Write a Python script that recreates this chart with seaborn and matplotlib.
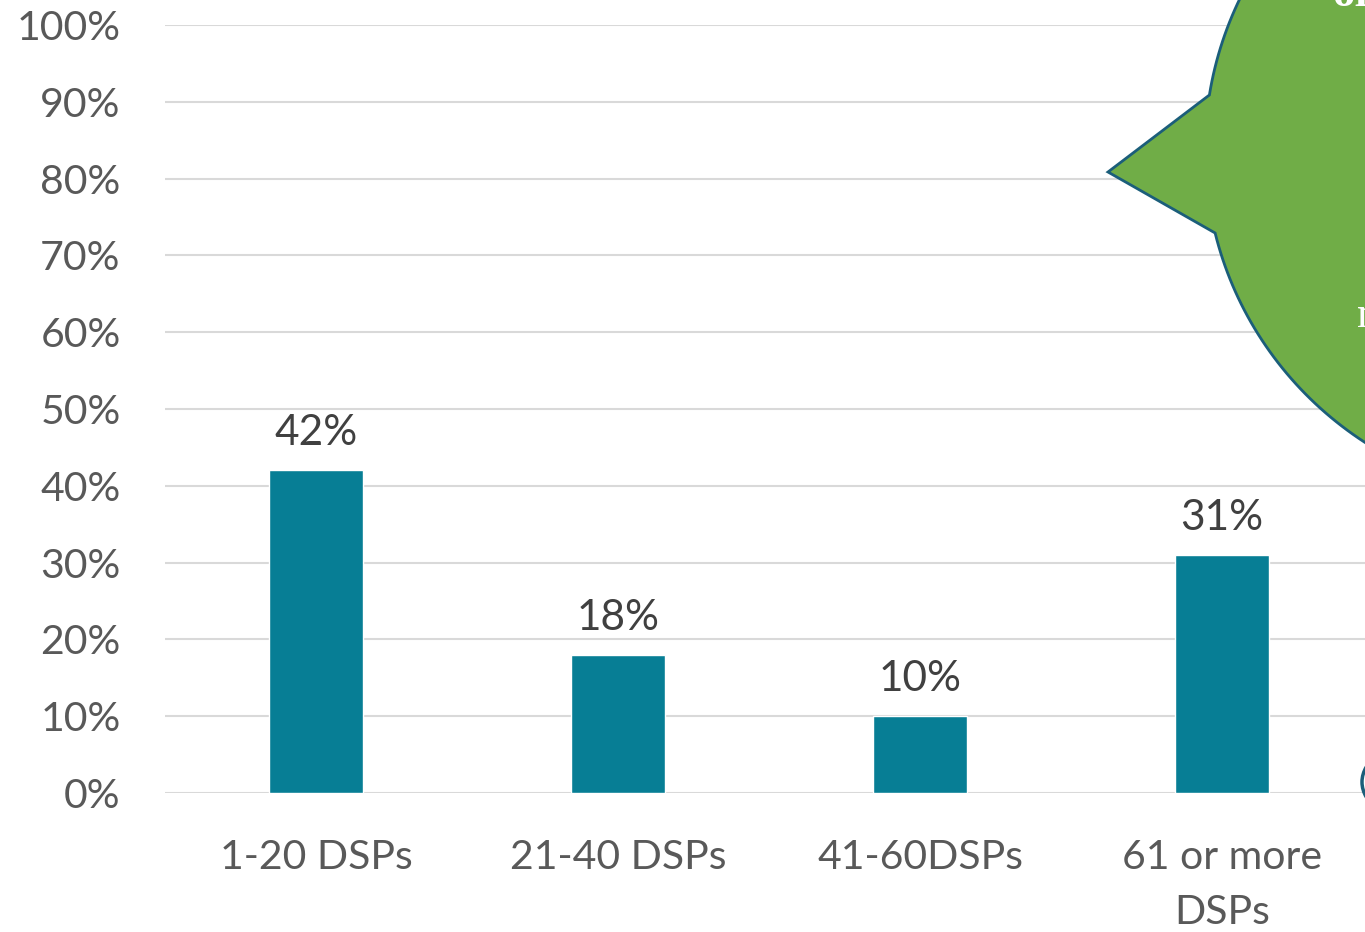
import numpy as np
import pandas as pd
import seaborn as sns
import matplotlib.pyplot as plt
from matplotlib.patches import Polygon, Ellipse

categories = ["1-20 DSPs", "21-40 DSPs", "41-60DSPs", "61 or more\nDSPs"]
shares = [42, 18, 10, 31]
ytick_vals = [0, 10, 20, 30, 40, 50, 60, 70, 80, 90, 100]

sns.set_style("white")
plt.rcParams["font.family"] = ["Lato", "DejaVu Sans"]

W, H = 1365, 932
fig = plt.figure(figsize=(W / 100, H / 100), dpi=100)
ax = fig.add_axes([165 / W, (H - 793) / H, 1208 / W, 768 / H])

df = pd.DataFrame({"cat": categories, "val": shares})
sns.barplot(data=df, x="cat", y="val", color="#077e95", saturation=1,
            width=0.31, ax=ax)

ax.set_ylim(0, 100)
ax.set_xlim(-0.5, 3.5)
ax.set_yticks(ytick_vals)
ax.set_yticklabels([f"{v}%" for v in ytick_vals])
ax.yaxis.grid(True, color="#d9d9d9", linewidth=1.5)
ax.set_axisbelow(True)
for s in ax.spines.values():
    s.set_visible(False)
ax.tick_params(axis="both", length=0, labelsize=29.5, labelcolor="#595959")
ax.tick_params(axis="y", pad=32)
ax.tick_params(axis="x", pad=33)
ax.set_xlabel("")
ax.set_ylabel("")
for lbl in ax.get_xticklabels():
    lbl.set_linespacing(1.6)

for i, v in enumerate(shares):
    ax.annotate(f"{v}%", (i, v), xytext=(0, 13), textcoords="offset points",
                ha="center", va="bottom", fontsize=30.5, color="#404040")

# green callout shape overlapping the right side (partly outside the picture)
cx, cy, rx, ry = 1560, 150, 355, 350
t1 = np.pi + np.arcsin((150 - 95) / ry)
t2 = 2 * np.pi + np.pi - np.arcsin((233 - 150) / ry)
ts = np.linspace(t1, t2, 300)
pts = [(cx + rx * np.cos(t), cy + ry * np.sin(t)) for t in ts]
pts.append((1108, 172))
pts = [(x / W, 1 - y / H) for x, y in pts]
fig.patches.append(Polygon(pts, closed=True, facecolor="#70ad47",
                           edgecolor="#1b5e7a", linewidth=2,
                           transform=fig.transFigure, zorder=5))
fig.text(1332 / W, 1 - 6 / H, "or", color="white", fontsize=32,
         family="Liberation Serif", weight="bold", va="baseline",
         ha="left", zorder=6)
fig.text(1357 / W, 1 - 327 / H, "n", color="white", fontsize=32,
         family="Liberation Serif", va="baseline", ha="left", zorder=6)

# edge of another shape at bottom right
fig.patches.append(Ellipse((1420 / W, 1 - 782 / H), 116 / W, 80 / H,
                           facecolor="white", edgecolor="#1b5e7a",
                           linewidth=2.5, transform=fig.transFigure, zorder=5))

fig.savefig("out.png", dpi=100)
